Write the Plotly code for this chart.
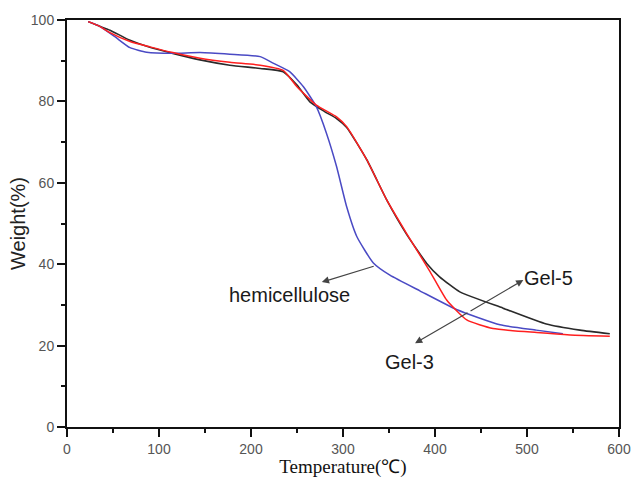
import plotly.graph_objects as go

# Gel-5 (black)
gel5_t = [23, 35, 46.7, 68.5, 90, 115, 144.6, 177, 210, 235, 250, 264, 280, 293, 304, 326, 347.5, 369, 391, 405, 427, 474, 521, 557.6, 590]
gel5_w = [99.6, 98.5, 97.5, 95, 93.3, 91.8, 90.2, 88.9, 88.1, 87.3, 84, 79.9, 77.5, 75.8, 73.6, 65.6, 55.8, 47.4, 40.2, 36.9, 33.2, 29.2, 25.3, 23.8, 22.9]

# Gel-3 (red)
gel3_t = [23, 35, 46.7, 68.5, 90, 115, 144.6, 177, 210, 235, 250, 271, 293, 304, 326, 347.5, 369, 394.6, 412.7, 434.5, 463, 510.6, 546.8, 590]
gel3_w = [99.6, 98.5, 96.9, 94.7, 93.4, 92, 90.6, 89.6, 88.9, 87.6, 83.6, 79.1, 76.2, 73.8, 65.6, 55.8, 47.6, 38.2, 31.2, 26.3, 24.2, 23.2, 22.6, 22.3]

# hemicellulose (blue)
hemi_t = [23, 35, 52, 68.5, 86.6, 115, 144.6, 177, 210, 224, 242, 257, 271, 282, 293, 304, 315, 333, 351, 384, 424, 470.7, 510, 539]
hemi_w = [99.6, 98.5, 95.9, 93.2, 92.1, 91.8, 92, 91.6, 91, 89.4, 87.3, 83.6, 78.7, 72.2, 64, 54.1, 46.8, 40.3, 37.3, 33.4, 28.8, 25.1, 23.8, 22.9]

x_ticks = [0, 100, 200, 300, 400, 500, 600]
y_ticks = [0, 20, 40, 60, 80, 100]

fig = go.Figure()
fig.add_trace(go.Scatter(x=gel5_t, y=gel5_w, mode="lines", line=dict(color="#2a2a2a", width=1.6, shape="spline", smoothing=0.5), showlegend=False))
fig.add_trace(go.Scatter(x=hemi_t, y=hemi_w, mode="lines", line=dict(color="#4a4ac4", width=1.5, shape="spline", smoothing=0.5), showlegend=False))
fig.add_trace(go.Scatter(x=gel3_t, y=gel3_w, mode="lines", line=dict(color="#ff1f1f", width=1.5, shape="spline", smoothing=0.5), showlegend=False))

afont = dict(family="Liberation Sans, Arial, sans-serif", size=20, color="#1a1a1a")
arrow = dict(xref="x", yref="y", axref="x", ayref="y", showarrow=True, arrowhead=2,
             arrowsize=1.2, arrowwidth=1.2, arrowcolor="#444", text="")
# hemicellulose arrow + label
fig.add_annotation(x=277, y=35.6, ax=335, ay=39.6, **arrow)
fig.add_annotation(x=242, y=32.4, text="hemicellulose", showarrow=False, font=afont)
# Gel-5
fig.add_annotation(x=496, y=36.1, ax=437, ay=28.3, **arrow)
fig.add_annotation(x=523.5, y=36.6, text="Gel-5", showarrow=False, font=afont)
# Gel-3
fig.add_annotation(x=378.3, y=20.6, ax=437, ay=28.3, **arrow)
fig.add_annotation(x=372, y=16.0, text="Gel-3", showarrow=False, font=afont)

axis_common = dict(showgrid=False, zeroline=False, showline=True, linecolor="#111", linewidth=2,
                   mirror=True, ticks="outside", ticklen=8, tickwidth=1.5, tickcolor="#111",
                   automargin=False,
                   tickfont=dict(family="Liberation Sans, Arial, sans-serif", size=14, color="#555"))

fig.update_xaxes(range=[0, 600], tickvals=x_ticks,
                 minor=dict(ticks="outside", ticklen=4, tickwidth=1.5, tickcolor="#111", dtick=50, tick0=0),
                 title=dict(text="Temperature(℃)", font=dict(family="Liberation Serif, Times New Roman, serif", size=19, color="#111"), standoff=4),
                 **axis_common)
fig.update_yaxes(range=[0, 100], tickvals=y_ticks,
                 minor=dict(ticks="outside", ticklen=4, tickwidth=1.5, tickcolor="#111", dtick=10, tick0=0),
                 title=dict(text="Weight(%)", font=dict(family="Liberation Sans, Arial, sans-serif", size=20, color="#222"), standoff=0),
                 **axis_common)

fig.update_layout(width=632, height=478, margin=dict(l=67, r=13, t=20, b=51),
                  plot_bgcolor="white", paper_bgcolor="white")

fig.write_html("out.html")
